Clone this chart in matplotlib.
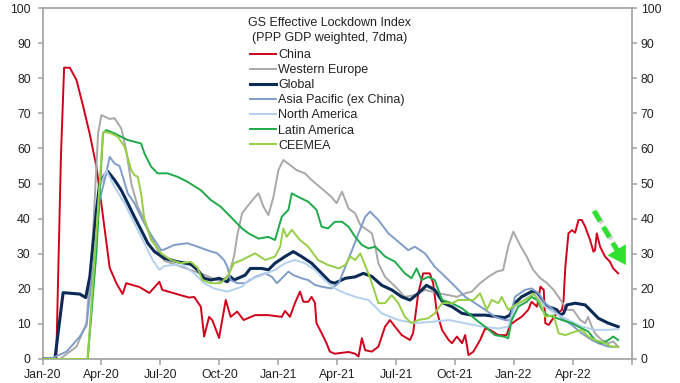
import matplotlib
matplotlib.use('Agg')
import matplotlib.pyplot as plt
import matplotlib.patheffects as pe

plt.rcParams['font.family'] = ['Liberation Sans', 'DejaVu Sans']

# time axis: months since Jan-2020
tick_months = [0, 3, 6, 9, 12, 15, 18, 21, 24, 27, 30]
tick_labels = ['Jan-20', 'Apr-20', 'Jul-20', 'Oct-20', 'Jan-21', 'Apr-21',
               'Jul-21', 'Oct-21', 'Jan-22', 'Apr-22', '']
y_ticks = [0, 10, 20, 30, 40, 50, 60, 70, 80, 90, 100]
title_lines = ['GS Effective Lockdown Index', '(PPP GDP weighted, 7dma)']

t_china = [0, 0.70, 0.94, 1.10, 1.39, 1.73, 2.07, 2.41, 2.74, 3.06,
           3.42, 3.76, 4.08, 4.26, 4.94, 5.44, 5.95, 6.10, 6.96, 7.47,
           7.72, 8.06, 8.23, 8.48, 8.65, 8.99, 9.33, 9.58, 9.91, 10.24,
           10.83, 11.49, 12.18, 12.35, 12.60, 12.85, 13.11, 13.28, 13.53, 13.70,
           13.87, 13.95, 14.21, 14.46, 14.63, 14.88, 15.58, 15.92, 16.09, 16.26,
           16.43, 16.77, 17.10, 17.44, 17.69, 17.95, 18.29, 18.71, 18.87, 19.13,
           19.38, 19.72, 19.89, 20.06, 20.34, 20.68, 20.85, 21.10, 21.36, 21.52,
           21.69, 21.94, 22.28, 22.54, 22.79, 23.21, 23.63, 23.80, 24.14, 24.39,
           24.73, 24.90, 25.18, 25.35, 25.52, 25.60, 25.77, 26.11, 26.45, 26.53,
           26.62, 26.78, 26.95, 27.12, 27.29, 27.46, 27.63, 27.88, 28.05, 28.13,
           28.22, 28.39, 28.64, 28.89, 29.06, 29.31]
v_china = [0, 0, 58, 83, 83, 79.5, 72, 64, 55, 41.5,
           26, 21.6, 18.5, 21.6, 20.5, 18.8, 22, 19.7, 18.3, 17.5,
           17.7, 14.9, 6.4, 12, 11, 6, 16.8, 12, 13.5, 11.1,
           12.5, 12.5, 12, 13.7, 12, 15.9, 19.2, 16.3, 16.3, 17.7,
           16, 10.2, 7.4, 4.5, 2.1, 1.5, 2, 1.5, 0.7, 5.9,
           2.5, 2.1, 3.5, 9.2, 11.1, 9.2, 6.8, 5.4, 7.4, 18.7,
           24.4, 24.4, 21.6, 14, 8.3, 5.4, 4.5, 6.4, 4.5, 6.8,
           1.1, 2.1, 5.4, 8.7, 8.3, 6.8, 6.8, 9.7, 11.1, 12,
           14, 16.3, 14.9, 20.6, 19.7, 10.2, 9.7, 12.5, 14, 16.8,
           26.3, 35.8, 36.7, 36, 39.6, 39.6, 37.7, 33.9, 30.6, 31,
           35.8, 32, 29.2, 27.7, 25.8, 24.4]

t_weur = [0, 0.89, 1.73, 2.24, 2.57, 2.83, 3.00, 3.42, 3.67, 4.01,
          4.26, 4.52, 4.85, 5.19, 5.53, 5.86, 6.20, 7.22, 8.23, 9.09,
          9.49, 9.75, 9.91, 10.16, 10.49, 10.83, 11.00, 11.25, 11.50, 11.76,
          12.01, 12.26, 12.60, 12.94, 13.36, 13.70, 14.21, 14.71, 14.97, 15.25,
          15.58, 15.92, 16.18, 16.52, 16.77, 16.94, 17.10, 17.44, 17.78, 18.12,
          18.45, 18.96, 19.47, 20.17, 20.68, 21.10, 21.52, 21.86, 22.28, 22.70,
          23.13, 23.45, 23.71, 23.97, 24.31, 24.65, 24.98, 25.35, 25.69, 26.02,
          26.36, 26.70, 27.02, 27.38, 27.63, 27.78, 27.97, 28.13, 28.47, 28.81,
          29.06, 29.31]
v_weur = [0, 0, 3.5, 10.2, 35.8, 64.3, 69.5, 68.4, 68.6, 65.7,
          59.5, 50, 43.4, 39.6, 34.8, 31, 28, 26, 24, 22,
          24, 29.2, 35, 41.5, 43.9, 46.2, 47.2, 43.4, 41, 46.2,
          53.8, 56.7, 55.3, 53.8, 52.9, 51, 48.6, 46.2, 44.4, 47.7,
          42.9, 41.5, 38.2, 36.8, 35.8, 32, 27.3, 23.4, 21.6, 19.7,
          17.7, 18.2, 19.7, 18.7, 18.2, 17.7, 18.7, 19.2, 21.6, 23.4,
          24.9, 25.3, 32, 36.3, 32.5, 29.2, 25.4, 23, 21.6, 19.7,
          17, 14, 14, 11.1, 10.2, 12, 9.2, 7.3, 5.4, 4.5,
          5, 3.5]

t_global = [0, 0.63, 1.05, 1.90, 2.20, 2.41, 2.74, 2.91, 3.16, 3.33,
            3.67, 4.01, 4.34, 4.68, 5.02, 5.36, 5.70, 6.20, 6.88, 7.55,
            7.89, 8.23, 8.57, 8.99, 9.41, 9.58, 9.75, 10.32, 10.58, 11.17,
            11.50, 11.84, 12.35, 12.77, 13.19, 13.70, 14.21, 14.63, 14.88, 15.42,
            15.92, 16.34, 16.77, 17.27, 17.78, 18.29, 18.71, 19.13, 19.55, 19.97,
            20.42, 20.85, 21.36, 21.86, 22.54, 23.21, 23.55, 23.80, 24.05, 24.39,
            24.90, 25.18, 25.44, 25.69, 26.02, 26.19, 26.36, 26.53, 26.70, 27.12,
            27.63, 27.88, 28.30, 28.81, 29.31]
v_global = [0, 0, 18.9, 18.5, 17.5, 23.4, 42, 50, 52.4, 53.4,
            51, 48.1, 44.4, 40.5, 36.8, 33, 30.6, 28.7, 27.7, 27,
            25.4, 23, 22.5, 23, 22, 23.4, 22.5, 23.9, 25.8, 25.8,
            25.4, 27.3, 29.2, 30.6, 29.2, 27.3, 24.4, 22, 21.6, 23,
            23.4, 24.4, 23.5, 21, 19.7, 17.7, 16.8, 18.7, 21, 19.7,
            15.9, 14.9, 13, 12.5, 12.5, 12, 11.8, 12.5, 15.9, 17.7,
            19.2, 18.7, 16.8, 14.9, 14.4, 14, 12.5, 13, 15.4, 15.9,
            15.4, 14, 11.6, 10.2, 9.2]

t_apac = [0, 0.38, 1.23, 1.90, 2.24, 2.57, 2.91, 3.25, 3.42, 3.67,
          3.92, 4.09, 4.34, 4.68, 5.02, 5.36, 5.70, 6.04, 6.20, 6.71,
          7.38, 7.89, 8.39, 8.90, 9.24, 9.41, 9.58, 9.91, 10.32, 10.83,
          11.34, 11.68, 11.93, 12.10, 12.52, 12.77, 13.19, 13.53, 13.87, 14.21,
          14.71, 15.08, 15.42, 15.76, 16.09, 16.43, 16.68, 17.10, 17.61, 18.12,
          18.62, 18.96, 19.47, 19.97, 20.51, 21.02, 21.52, 22.03, 22.54, 23.04,
          23.55, 23.80, 24.05, 24.56, 24.90, 25.26, 25.60, 26.02, 26.45, 26.95,
          27.46, 27.97, 28.30, 28.81, 29.31]
v_apac = [0, 0, 2.1, 6.4, 9.5, 26.3, 45.3, 53, 57.6, 55.7,
          55, 51.9, 47.2, 44.4, 40.5, 36.8, 33.9, 31, 31.2, 32.5,
          33, 32, 31, 30.1, 28.2, 26.3, 22.5, 21.6, 21.6, 23.4,
          24.4, 23.4, 21.6, 22.5, 24.9, 23.9, 23, 22.5, 21.1, 20.6,
          20.1, 21.6, 26.3, 31, 35.8, 40.5, 42, 39.6, 35.8, 33.4,
          31, 32, 30.1, 26.3, 23.4, 20.6, 17.7, 15.9, 14, 12,
          11.1, 11, 17.7, 19.7, 20.1, 18.7, 15.9, 14, 11.6, 9.7,
          7.3, 5.4, 4.5, 3.5, 3.5]

t_nam = [0, 2.30, 2.57, 2.91, 3.25, 3.67, 4.18, 4.68, 5.19, 5.61,
         5.95, 6.20, 6.71, 7.22, 7.72, 8.23, 8.73, 9.41, 10.16, 10.49,
         11.17, 11.84, 12.35, 12.85, 13.36, 13.87, 14.37, 14.88, 15.42, 15.92,
         16.60, 17.27, 18.12, 18.96, 19.81, 20.68, 21.52, 22.37, 23.21, 23.71,
         24.05, 24.73, 25.10, 25.60, 26.11, 26.78, 27.46, 28.13, 28.81, 29.31]
v_nam = [0, 0, 20, 49, 53.8, 49, 44.4, 38.6, 33, 28.2,
         25.4, 26.5, 26.8, 26.5, 24.4, 21.6, 20.1, 19.2, 20.6, 22.5,
         23.9, 25.4, 27.3, 28.2, 27.3, 25.4, 22.5, 20.1, 18.7, 17.7,
         16.8, 13, 11.1, 10.2, 10.6, 11.1, 10.2, 9.2, 8.7, 9.2,
         14.9, 17.7, 18.5, 14.9, 13, 11.1, 9.2, 8.3, 8.3, 8.5]

t_latam = [0, 2.30, 2.74, 3.08, 3.25, 3.67, 4.01, 4.34, 4.68, 5.02,
           5.19, 5.53, 5.86, 6.37, 6.88, 7.38, 8.06, 8.57, 9.07, 9.58,
           10.16, 10.49, 11.00, 11.50, 11.84, 12.18, 12.52, 12.69, 13.02, 13.53,
           13.95, 14.21, 14.54, 14.88, 15.25, 15.58, 15.92, 16.26, 16.60, 16.94,
           17.44, 17.95, 18.45, 18.79, 19.05, 19.30, 19.64, 19.97, 20.34, 20.85,
           21.36, 21.69, 22.20, 22.54, 23.04, 23.55, 23.71, 23.89, 24.22, 24.65,
           24.90, 25.18, 25.44, 25.69, 26.02, 26.45, 26.95, 27.46, 27.79, 28.13,
           28.47, 28.81, 29.06, 29.31]
v_latam = [0, 0, 30, 64.4, 65.2, 64.3, 63.3, 62.4, 61.9, 61.4,
           58.6, 54.8, 52.9, 52.9, 51.9, 50.5, 48.1, 45.3, 43.4, 40.5,
           37.2, 35.8, 34.3, 34.8, 33.9, 40.5, 42.5, 47.2, 46.2, 44.8,
           42.5, 37.7, 37.2, 39.1, 39.1, 37.7, 34.8, 32.5, 31.5, 32,
           29.2, 27.7, 24.4, 23, 25.8, 22.5, 23.4, 22.5, 16.8, 15.9,
           14.4, 13, 10.6, 9.2, 6.8, 6.3, 5.9, 11.1, 14.9, 16.3,
           17.7, 16.8, 14, 12.5, 12, 11.1, 10.2, 8.7, 7.8, 5.4,
           4.5, 5.4, 6.4, 5.4]

t_ceemea = [0, 2.30, 2.74, 3.08, 3.16, 3.50, 3.84, 4.18, 4.52, 4.68,
            4.85, 5.02, 5.19, 5.53, 6.04, 6.54, 7.05, 7.55, 7.89, 8.14,
            8.57, 9.07, 9.41, 9.75, 10.16, 10.32, 10.83, 11.34, 11.84, 12.10,
            12.26, 12.43, 12.69, 13.11, 13.53, 14.03, 14.54, 15.08, 15.42, 15.67,
            15.92, 16.18, 16.52, 16.77, 17.10, 17.44, 17.78, 18.12, 18.45, 18.79,
            19.13, 19.64, 19.97, 20.34, 20.85, 21.18, 21.52, 21.94, 22.28, 22.62,
            22.87, 23.21, 23.38, 23.71, 24.22, 24.73, 24.98, 25.35, 25.60, 26.02,
            26.28, 26.62, 27.12, 27.46, 27.79, 28.13, 28.64, 28.97, 29.31]
v_ceemea = [0, 0, 35.8, 64.4, 64.7, 64.3, 63.3, 60.5, 53.8, 52.4,
            51.9, 47.2, 39.6, 33.9, 30.1, 28.2, 27.3, 27.7, 26, 22.5,
            21.6, 21.6, 23.4, 27.3, 28.2, 28.7, 30.1, 28.2, 29.2, 32,
            37.2, 34.8, 36.8, 33.9, 32, 28.2, 26.8, 25.8, 26.8, 29.2,
            28.2, 30.1, 25.4, 21.6, 15.9, 15.9, 18.2, 15.9, 12, 10.2,
            11.1, 11.6, 13, 15.9, 15.9, 16.8, 16.8, 16.8, 18.7, 14,
            16.8, 15.9, 17.7, 14, 15.9, 17.3, 18.7, 15.9, 12, 12.5,
            7.3, 6.8, 7.8, 8.3, 6.4, 5.4, 4.5, 3.5, 3.5]

series = [
    ('China', t_china, v_china, '#d0021b', 1.4),
    ('Western Europe', t_weur, v_weur, '#a8a8a8', 1.4),
    ('Global', t_global, v_global, '#0b2a55', 2.2),
    ('Asia Pacific (ex China)', t_apac, v_apac, '#7f9dc9', 1.4),
    ('North America', t_nam, v_nam, '#b3d0ef', 1.4),
    ('Latin America', t_latam, v_latam, '#1faa4a', 1.4),
    ('CEEMEA', t_ceemea, v_ceemea, '#96cf45', 1.4),
]

fig = plt.figure(figsize=(6.8, 3.83), dpi=100)
ax = fig.add_axes([0.0625, 0.0627, 0.8665, 0.9163])

for i, (name, t, v, c, lw) in enumerate(series):
    ax.plot(t, v, color=c, lw=lw, label=name, zorder=2 + i,
            solid_joinstyle='round')

ax.set_xlim(0, 30)
ax.set_ylim(0, 100)
ax.set_xticks(tick_months)
ax.set_xticklabels(tick_labels)
ax.set_yticks(y_ticks)

spine_c = '#a0a0a0'
for s in ax.spines.values():
    s.set_color(spine_c)
    s.set_linewidth(1.2)

ax.tick_params(axis='x', direction='out', length=4, width=1.1, color=spine_c,
               pad=3, labelsize=8.8, labelcolor='#222222')
ax.tick_params(axis='y', direction='out', length=3.5, width=1.1, color=spine_c,
               pad=5, labelsize=8.8, labelcolor='#222222', right=False)

ax2 = ax.twinx()
ax2.set_ylim(0, 100)
ax2.set_yticks(y_ticks)
ax2.tick_params(axis='y', direction='out', length=3.5, width=1.1, color=spine_c,
                pad=3, labelsize=8.8, labelcolor='#222222')
for s in ax2.spines.values():
    s.set_visible(False)

# legend title (two centred lines)
fig.text(330 / 680, 1 - 23.5 / 383, title_lines[0], ha='center', va='center',
         fontsize=9, color='#222222')
fig.text(330 / 680, 1 - 37.5 / 383, title_lines[1], ha='center', va='center',
         fontsize=9, color='#222222')

leg = ax.legend(loc='upper left', bbox_to_anchor=(250 / 680, 1 - 49 / 383),
                bbox_transform=fig.transFigure, frameon=False,
                fontsize=9, handlelength=2.1,
                handletextpad=0.15, labelspacing=0.25, borderpad=0,
                borderaxespad=0)
for txt in leg.get_texts():
    txt.set_color('#222222')

# annotation arrow (axes fraction coordinates)
green = '#2fe02f'
shadow = [pe.SimpleLineShadow(offset=(1.5, -1.5), shadow_color='#888888', alpha=0.35),
          pe.Normal()]
ax.plot([0.936, 0.975], [0.422, 0.310], transform=ax.transAxes, color=green,
        lw=3.6, ls=(0, (2.4, 1.3)), solid_capstyle='butt', dash_capstyle='butt',
        clip_on=False, zorder=20, path_effects=shadow)
ax.annotate('', xy=(0.990, 0.268), xytext=(0.972, 0.318),
            xycoords='axes fraction', textcoords='axes fraction',
            arrowprops=dict(arrowstyle='-|>,head_length=1.0,head_width=0.6',
                            mutation_scale=12, color=green, lw=0.5, shrinkA=0,
                            shrinkB=0),
            zorder=21, annotation_clip=False)

fig.savefig('out.png', dpi=100)
